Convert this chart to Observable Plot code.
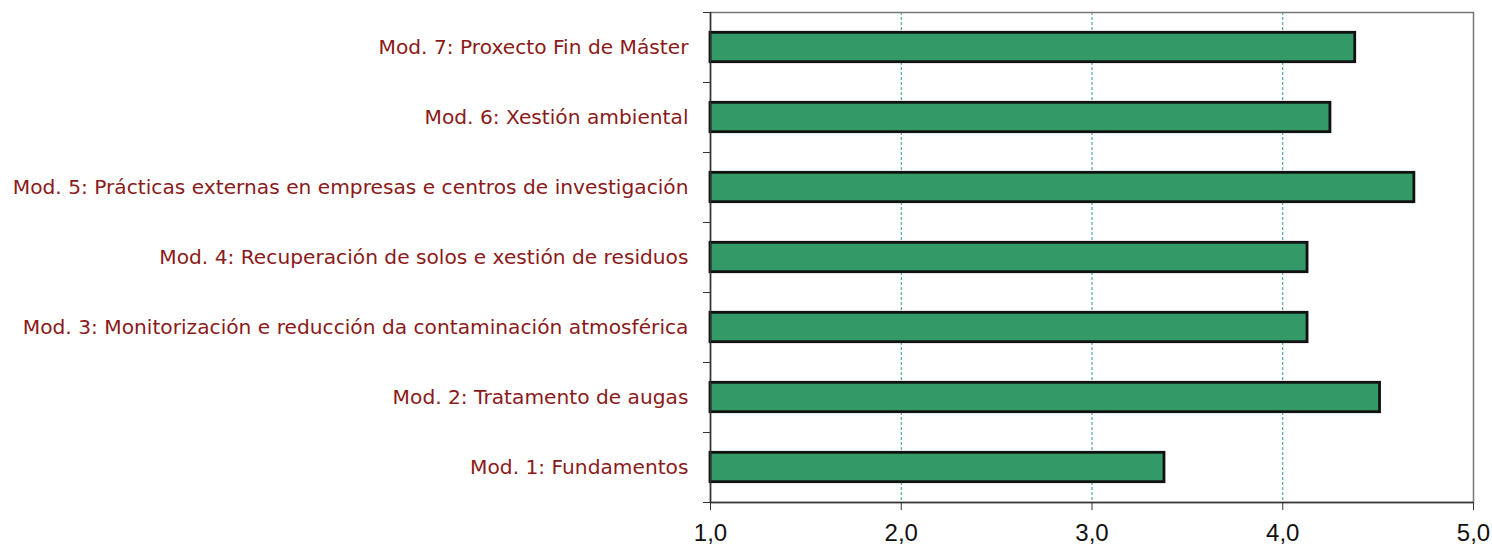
<!DOCTYPE html>
<html>
<head>
<meta charset="utf-8">
<script src="https://cdn.jsdelivr.net/npm/d3@7"></script>
<script src="https://cdn.jsdelivr.net/npm/@observablehq/plot@0.6"></script>
<style>
  html, body { margin: 0; padding: 0; background: #fff; }
  #chart svg { display: block; }
</style>
</head>
<body>
<div id="chart"></div>
<script>
const categories = [
  "Mod. 1: Fundamentos",
  "Mod. 2: Tratamento de augas",
  "Mod. 3: Monitorización e reducción da contaminación atmosférica",
  "Mod. 4: Recuperación de solos e xestión de residuos",
  "Mod. 5: Prácticas externas en empresas e centros de investigación",
  "Mod. 6: Xestión ambiental",
  "Mod. 7: Proxecto Fin de Máster"
];
const values = [3.38, 4.51, 4.13, 4.13, 4.69, 4.25, 4.38];
const xTicks = [1, 2, 3, 4, 5];
const gridTicks = [2, 3, 4];

const data = categories.map((label, i) => ({label, value: values[i], i}));
const half = 0.21;

const chart = Plot.plot({
  width: 1492,
  height: 548,
  marginLeft: 710,
  marginRight: 19,
  marginTop: 12,
  marginBottom: 46,
  style: {background: "#fff"},
  x: {domain: [1, 5]},
  y: {domain: [0, categories.length]},
  marks: [
    Plot.ruleX(gridTicks, {stroke: "#2e9a9a", strokeDasharray: "3,2", strokeWidth: 1}),
    Plot.frame({stroke: "#777", strokeWidth: 1.5}),
    Plot.rectX(data, {
      x1: 1, x2: "value",
      y1: d => d.i + 0.5 - half, y2: d => d.i + 0.5 + half,
      fill: "#339966", stroke: "#111", strokeWidth: 2.8
    }),
    Plot.ruleX([1], {stroke: "#333", strokeWidth: 1.5}),
    Plot.ruleY([0], {stroke: "#333", strokeWidth: 1.5}),
    Plot.axisY({ticks: d3.range(0, categories.length + 1), tickFormat: () => "", tickSize: 7, stroke: "#333"}),
    Plot.axisX({
      ticks: xTicks,
      tickFormat: () => "",
      tickSize: 8,
      stroke: "#333", label: null
    }),
    Plot.text(xTicks, {
      x: d => d, y: 0, text: d => d.toFixed(1).replace(".", ","),
      dy: 31, fontSize: 24, fill: "#111",
      fontFamily: "Liberation Sans, Arial, sans-serif"
    }),
    Plot.text(data, {
      x: 1, y: d => d.i + 0.5, text: "label",
      textAnchor: "end", dx: -22,
      fill: "#8b1a1a", fontSize: 20.2,
      fontFamily: "DejaVu Sans, sans-serif"
    })
  ]
});
document.getElementById("chart").append(chart);
</script>
</body>
</html>
